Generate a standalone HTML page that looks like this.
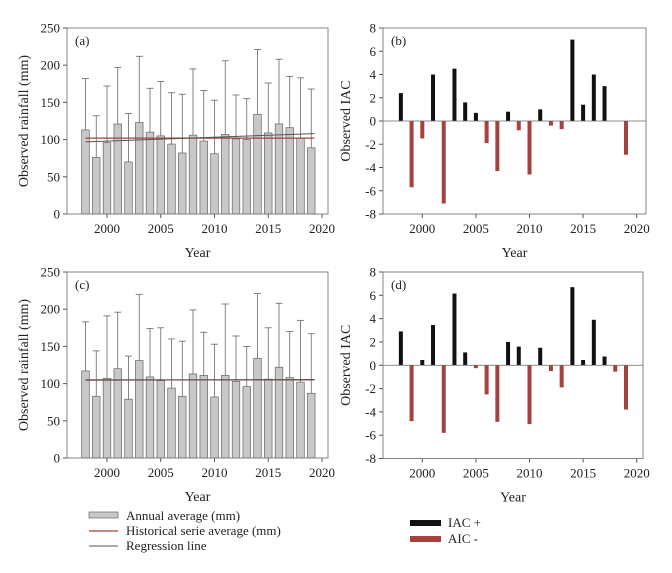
<!DOCTYPE html>
<html><head><meta charset="utf-8"><style>
html,body{margin:0;padding:0;background:#fff}
svg{display:block;font-family:"Liberation Serif",serif}
</style></head><body>
<svg id="c" width="672" height="573" viewBox="0 0 672 573"></svg>
<script>
const years=[1998,1999,2000,2001,2002,2003,2004,2005,2006,2007,2008,2009,2010,2011,2012,2013,2014,2015,2016,2017,2018,2019];
const meanA=[113,76,96,121,70,123,110,105,94,82,106,98,81,107,101,100,134,109,121,116,102,89];
const upA=[182,132,172,197,135,212,169,178,163,161,195,166,153,206,160,155,221,176,208,185,183,168];
const histA=[102,102];
const regA=[97,108];
const meanC=[117,83,107,120,79,131,109,104,94,83,113,111,82,111,103,96,134,106,122,108,102,87];
const upC=[183,144,191,196,137,220,174,175,160,157,199,169,153,207,164,150,221,175,208,170,185,167];
const histC=[105,105];
const regC=[104.5,105.5];
const iacB=[2.4,-5.7,-1.5,4.0,-7.1,4.5,1.6,0.7,-1.9,-4.3,0.8,-0.8,-4.6,1.0,-0.4,-0.7,7.0,1.4,4.0,3.0,0,-2.9];
const iacD=[2.9,-4.8,0.45,3.45,-5.8,6.15,1.1,-0.25,-2.5,-4.85,2.0,1.6,-5.05,1.5,-0.5,-1.9,6.7,0.45,3.9,0.75,-0.55,-3.8];
const xTicks=[2000,2005,2010,2015,2020];
const rainTicks=[0,50,100,150,200,250];
const iacTicks=[-8,-6,-4,-2,0,2,4,6,8];

const S=document.getElementById('c');const NS='http://www.w3.org/2000/svg';
function mk(t,a,p){const e=document.createElementNS(NS,t);for(const k in a)e.setAttribute(k,a[k]);(p||S).appendChild(e);return e;}
function txt(x,y,s,a,p){const e=mk('text',Object.assign({x:x,y:y,'font-size':13,fill:'#222'},a||{}),p);e.textContent=s;return e;}

function panel(o){
  const g=mk('g',{});
  
  
  const X=v=>o.x0+(v-2000)*(o.x1-o.x0)/20;
  const Y=v=>o.yb+(v-o.ymin)*(o.yt-o.yb)/(o.ymax-o.ymin);
  // ticks
  o.yticks.forEach(t=>{
    const l=mk('line',{x1:o.L-4,x2:o.L,y1:Y(t),y2:Y(t),stroke:'#555'},g);
    const tt=txt(o.L-7,Y(t)+4.5,String(t),{'text-anchor':'end'},g);
    
    
  });
  xTicks.forEach(t=>{
    mk('line',{x1:X(t),x2:X(t),y1:o.yb,y2:o.yb+4,stroke:'#555'},g);
    const tt=txt(X(t),o.yb+19,String(t),{'text-anchor':'middle'},g);
    
    
  });
  // bars
  const vals=o.vals;
  years.forEach((yr,i)=>{
    const v=vals[i];
    if(o.type==='rain'){
      const eb=mk('line',{x1:X(yr),x2:X(yr),y1:Y(v),y2:Y(o.up[i]),stroke:'#666','stroke-width':0.8},g);
      
      
      mk('line',{x1:X(yr)-3.5,x2:X(yr)+3.5,y1:Y(o.up[i]),y2:Y(o.up[i]),stroke:'#666','stroke-width':0.8},g);
      const b=mk('rect',{x:X(yr)-3.8,y:Y(v),width:7.6,height:Y(0)-Y(v),fill:'#c8c8c8',stroke:'#666','stroke-width':0.7},g);
      
      
    }else{
      const top=Math.min(Y(v),Y(0)),h=Math.abs(Y(v)-Y(0));
      const b=mk('rect',{x:X(yr)-2,y:top,width:4,height:h,fill:v>=0?'#111':'#a5423e'},g);
      
      
    }
  });
  if(o.type==='rain'){
    const h=mk('line',{x1:X(1998),x2:X(2019.3),y1:Y(o.hist[0]),y2:Y(o.hist[1]),stroke:'#a5423e','stroke-width':1.3},g);
    
    
    const r=mk('line',{x1:X(1998),x2:X(2019.3),y1:Y(o.reg[0]),y2:Y(o.reg[1]),stroke:'#555','stroke-width':1},g);
    
    
  }else{
    const z=mk('line',{x1:o.L,x2:o.R,y1:Y(0),y2:Y(0),stroke:'#666','stroke-width':0.8},g);
    
    
  }
  const fr=mk('rect',{x:o.L,y:Y(o.ymax),width:o.R-o.L,height:o.yb-Y(o.ymax),fill:'none',stroke:'#777','stroke-width':0.9},g);
  
  
  const lab=txt(o.L+8,Y(o.ymax)+17,o.label,{},g);
  
  
  const xt=txt((o.L+o.R)/2,o.yb+43,'Year',{'text-anchor':'middle','font-size':14},g);
  
  
  const cy=(o.yb+Y(o.ymax))/2;
  const yt=txt(o.ytx,cy,o.ytitle,{'text-anchor':'middle','font-size':14,transform:'rotate(-90 '+o.ytx+' '+cy+')'},g);
  
  
}
panel({name:'panel-a',type:'rain',vals:meanA,up:upA,hist:histA,reg:regA,x0:107,x1:322,L:67,R:328,yb:214,yt:28,ymin:0,ymax:250,yticks:rainTicks,label:'(a)',ytitle:'Observed rainfall (mm)',ytx:28});
panel({name:'panel-b',type:'iac',vals:iacB,x0:422.3,x1:636.7,L:383,R:646,yb:214,yt:28,ymin:-8,ymax:8,yticks:iacTicks,label:'(b)',ytitle:'Observed IAC',ytx:350});
panel({name:'panel-c',type:'rain',vals:meanC,up:upC,hist:histC,reg:regC,x0:107,x1:322,L:67,R:328,yb:458,yt:272,ymin:0,ymax:250,yticks:rainTicks,label:'(c)',ytitle:'Observed rainfall (mm)',ytx:28});
panel({name:'panel-d',type:'iac',vals:iacD,x0:422.3,x1:636.7,L:383,R:643,yb:458.5,yt:272,ymin:-8,ymax:8,yticks:iacTicks,label:'(d)',ytitle:'Observed IAC',ytx:350});

// legends
const lg=mk('g',{});


const l1=mk('rect',{x:89,y:512,width:29,height:6,fill:'#c8c8c8',stroke:'#666','stroke-width':0.7},lg);


txt(126,520,'Annual average (mm)',{'font-size':13},lg);
mk('line',{x1:89,x2:118,y1:531,y2:531,stroke:'#a5423e','stroke-width':1.3},lg);
txt(126,535,'Historical serie average (mm)',{'font-size':13},lg);
mk('line',{x1:89,x2:118,y1:546,y2:546,stroke:'#555','stroke-width':1},lg);
txt(126,550,'Regression line',{'font-size':13},lg);
const lg2=mk('g',{});


mk('rect',{x:410,y:520,width:31,height:6,fill:'#111'},lg2);
txt(448,527,'IAC +',{'font-size':13},lg2);
mk('rect',{x:410,y:536,width:31,height:6,fill:'#a5423e'},lg2);
txt(448,543,'AIC -',{'font-size':13},lg2);
</script>
</body></html>
